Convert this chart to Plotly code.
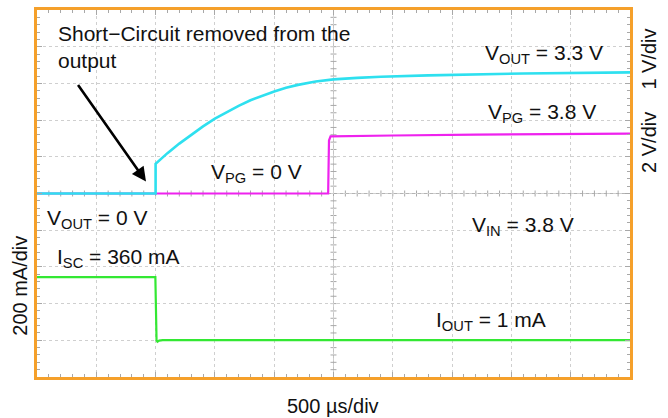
import plotly.graph_objects as go

# ---- channel data (time in microseconds) ----
# Ch1: output voltage, 1 V/div
t_vout = [0, 1000, 1000, 1100, 1200, 1300, 1400, 1500, 1600, 1700, 1800, 1900,
          2000, 2100, 2200, 2350, 2500, 2700, 2900, 3300, 4100, 5000]
v_out = [0.0, 0.0, 0.81, 1.10, 1.36, 1.60, 1.83, 2.04, 2.22, 2.39, 2.54, 2.67,
         2.78, 2.88, 2.96, 3.05, 3.11, 3.15, 3.18, 3.22, 3.27, 3.30]

# Ch2: power-good voltage, 2 V/div
t_vpg = [0, 2455, 2462, 2475, 3000, 3700, 5000]
v_pg = [0.0, 0.0, 3.36, 3.63, 3.68, 3.74, 3.80]

# Ch4: output current (mA), 200 mA/div
t_iout = [0, 998, 1008, 1016, 1030, 1060, 5000]
i_out = [360, 360, 0, -8, -2, 1, 1]

time_per_div = 500
n_div = 10

# ---- styling ----
ORANGE = "#f5a02a"
CYAN = "#2ee0ef"
MAGENTA = "#ee22ee"
GREEN = "#33e833"
GRID = "#cfcfcf"
TICK = "#a8a8a8"
FONT = "Liberation Sans, Arial, sans-serif"

L, T, W, H = 37, 7, 593, 370
FIG_W, FIG_H = 668, 418


def pp(x, y):
    """pixel position -> paper coordinates"""
    return (x - L) / W, 1 - (y - T) / H


# vertical placement of each channel's levels (divisions from screen centre)
vpg_scale = v_pg[-1] / 1.632          # V per division on screen
iout_scale = i_out[0] / 1.722         # mA per division on screen
iout_zero_div = -4                    # 0 mA sits 4 divisions below centre

fig = go.Figure()

# each channel on its own overlaid axis; later axes are drawn on top
fig.add_trace(go.Scatter(x=t_vpg, y=v_pg, yaxis="y2", mode="lines",
                         line=dict(color=MAGENTA, width=2.2), hoverinfo="skip"))
fig.add_trace(go.Scatter(x=t_iout, y=i_out, yaxis="y3", mode="lines",
                         line=dict(color=GREEN, width=2.2), hoverinfo="skip"))
fig.add_trace(go.Scatter(x=t_vout, y=v_out, yaxis="y4", mode="lines",
                         line=dict(color=CYAN, width=2.6), hoverinfo="skip"))

axis_common = dict(
    showgrid=True, griddash="dot", gridcolor=GRID, gridwidth=1,
    showline=True, linecolor=ORANGE, linewidth=2.5, mirror="ticks",
    ticks="inside", ticklen=5, tickcolor=TICK, tickwidth=1,
    showticklabels=False, zeroline=False, fixedrange=True,
)

fig.update_layout(
    width=FIG_W, height=FIG_H,
    margin=dict(l=L, r=FIG_W - L - W, t=T, b=FIG_H - T - H),
    paper_bgcolor="white", plot_bgcolor="white",
    showlegend=False,
    xaxis=dict(range=[0, time_per_div * n_div], dtick=time_per_div,
               minor=dict(ticks="inside", dtick=time_per_div / 5, ticklen=3,
                          tickcolor=TICK, showgrid=False),
               **axis_common),
    # screen graticule in divisions
    yaxis=dict(range=[-5, 5], dtick=1,
               minor=dict(ticks="inside", dtick=0.2, ticklen=3,
                          tickcolor=TICK, showgrid=False),
               **axis_common),
    yaxis2=dict(range=[-5 * vpg_scale, 5 * vpg_scale], overlaying="y",
                visible=False, fixedrange=True),
    yaxis3=dict(range=[(-5 - iout_zero_div) * iout_scale,
                       (5 - iout_zero_div) * iout_scale],
                overlaying="y", visible=False, fixedrange=True),
    yaxis4=dict(range=[-5, 5], overlaying="y", visible=False, fixedrange=True),
)

# centre cross-hair with tick marks
shapes = [
    dict(type="line", xref="x", yref="y", x0=0, x1=time_per_div * n_div, y0=0, y1=0,
         line=dict(color="#b4b4b4", width=1), layer="below"),
    dict(type="line", xref="x", yref="y", x0=2500, x1=2500, y0=-5, y1=5,
         line=dict(color="#c4c4c4", width=1), layer="below"),
]
for k in range(1, n_div * 5):
    t = k * time_per_div / 5
    shapes.append(dict(type="line", xref="x", yref="y", x0=t, x1=t,
                       ysizemode="pixel", yanchor=0, y0=-3, y1=3,
                       line=dict(color=TICK, width=1), layer="below"))
    v = -5 + k * 0.2
    shapes.append(dict(type="line", xref="x", yref="y", y0=v, y1=v,
                       xsizemode="pixel", xanchor=2500, x0=-3, x1=3,
                       line=dict(color=TICK, width=1), layer="below"))
fig.update_layout(shapes=shapes)

# ---- text ----
FS = 21
labels = [
    ("Short\u2212Circuit removed from the<br>output", 56, 44),
    ("V<sub>OUT</sub> = 3.3 V", 483, 51),
    ("V<sub>PG</sub> = 3.8 V", 486, 111),
    ("V<sub>PG</sub> = 0 V", 209, 171),
    ("V<sub>OUT</sub> = 0 V", 45, 218),
    ("I<sub>SC</sub> = 360 mA", 55, 257),
    ("V<sub>IN</sub> = 3.8 V", 470, 225),
    ("I<sub>OUT</sub> = 1 mA", 434, 321),
]
for text, x, y in labels:
    xp, yp = pp(x, y)
    fig.add_annotation(text=text, x=xp, y=yp, xref="paper", yref="paper",
                       xanchor="left", yanchor="middle", showarrow=False,
                       align="left", font=dict(family=FONT, size=FS, color="#111"))

# arrow pointing at the moment the short is removed
tip = pp(146, 180)
fig.add_annotation(x=tip[0], y=tip[1], xref="paper", yref="paper", text="",
                   showarrow=True, ax=77 - 146, ay=82 - 180, axref="pixel",
                   ayref="pixel", arrowhead=2, arrowsize=1.1, arrowwidth=2.6,
                   arrowcolor="#000", standoff=0)

# scale captions
captions = [
    ("500 \u00b5s/div", 333, 406, 0),
    ("200 mA/div", 20, 285, -90),
    ("1 V/div", 649, 57, -90),
    ("2 V/div", 649, 141, -90),
]
for text, x, y, angle in captions:
    xp, yp = pp(x, y)
    fig.add_annotation(text=text, x=xp, y=yp, xref="paper", yref="paper",
                       xanchor="center", yanchor="middle", showarrow=False,
                       textangle=angle,
                       font=dict(family=FONT, size=20, color="#111"))

fig.write_html("out.html")
